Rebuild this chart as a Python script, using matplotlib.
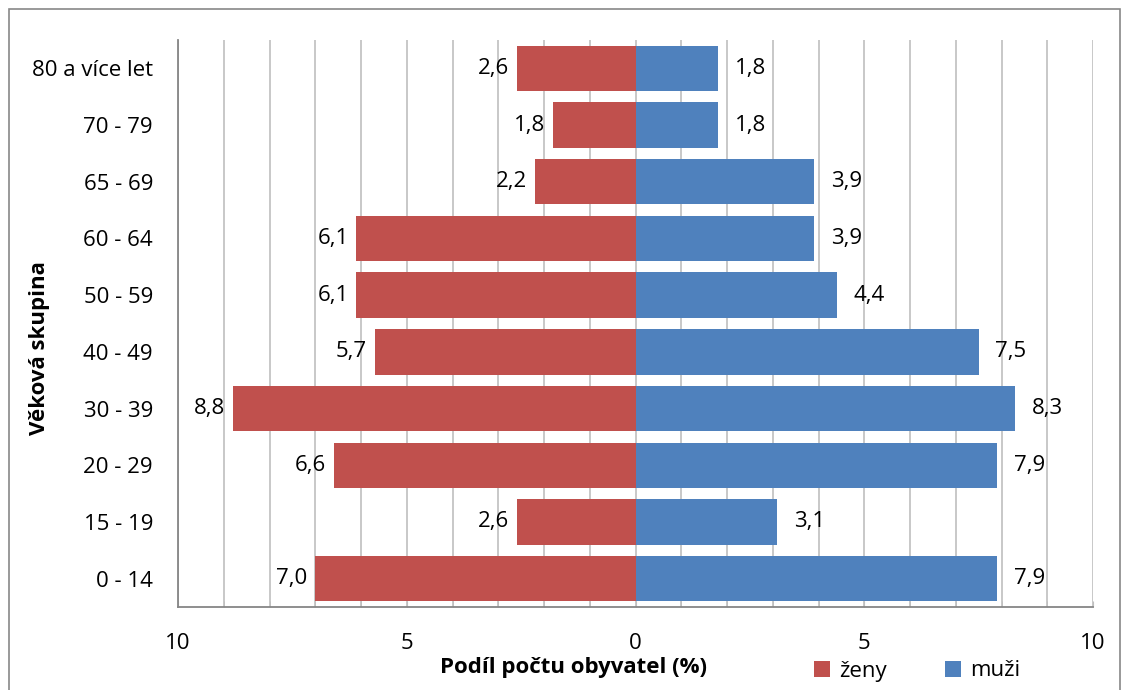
import matplotlib
matplotlib.use("Agg")
import matplotlib.pyplot as plt
from matplotlib.patches import Rectangle
import numpy as np

categories = ["0 - 14", "15 - 19", "20 - 29", "30 - 39", "40 - 49",
              "50 - 59", "60 - 64", "65 - 69", "70 - 79", "80 a více let"]
zeny = [7.0, 2.6, 6.6, 8.8, 5.7, 6.1, 6.1, 2.2, 1.8, 2.6]
muzi = [7.9, 3.1, 7.9, 8.3, 7.5, 4.4, 3.9, 3.9, 1.8, 1.8]
xticks = [-10, -5, 0, 5, 10]
xtick_labels = ["10", "5", "0", "5", "10"]

plt.rcParams['font.family'] = ['Open Sans', 'DejaVu Sans']
FS = 16

fig = plt.figure(figsize=(11.23, 6.9), dpi=100)
ax = fig.add_axes([178/1123, 1-607/690, (1093-178)/1123, (607-40)/690])

y = np.arange(len(categories))
red = "#C0504D"
blue = "#4F81BD"
ax.barh(y, [-v for v in zeny], height=0.8, color=red, zorder=3, label="ženy")
ax.barh(y, muzi, height=0.8, color=blue, zorder=3, label="muži")

def fmt(v):
    return f"{v:.1f}".replace(".", ",")

for yi, v in zip(y, zeny):
    ax.annotate(fmt(v), xy=(-v, yi), xytext=(-5.5, 0), textcoords="offset points",
                ha="right", va="center", fontsize=FS, color="black")
for yi, v in zip(y, muzi):
    ax.annotate(fmt(v), xy=(v, yi), xytext=(12, 0), textcoords="offset points",
                ha="left", va="center", fontsize=FS, color="black")

ax.set_xlim(-10, 10)
ax.set_ylim(-0.5, len(categories) - 0.5)
ax.set_xticks(xticks)
ax.set_xticklabels(xtick_labels, fontsize=FS)
ax.set_xticks(np.arange(-10, 11, 1), minor=True)
ax.tick_params(axis="x", which="both", direction="in", length=4, color="#bfbfbf", pad=19)
ax.set_yticks(y)
ax.set_yticklabels(categories, fontsize=FS)
ax.tick_params(axis="y", length=0, pad=18)

ax.grid(axis="x", which="minor", color="#bfbfbf", linewidth=1.2, zorder=0)
ax.grid(axis="x", which="major", color="#bfbfbf", linewidth=1.2, zorder=0)
for s in ["top", "right"]:
    ax.spines[s].set_visible(False)
for s in ["left", "bottom"]:
    ax.spines[s].set_color("#868686")
    ax.spines[s].set_linewidth(1.3)

fig.text(40/1123, 1-348/690, "Věková skupina", rotation=90, ha="center", va="center",
         fontsize=FS, fontweight="bold")
fig.text(574/1123, 1-668/690, "Podíl počtu obyvatel (%)", ha="center", va="center",
         fontsize=FS, fontweight="bold")

handles, labels = ax.get_legend_handles_labels()
leg = fig.legend(handles, labels, loc="center left", bbox_to_anchor=(814/1123, 1-671/690),
                 ncol=2, frameon=False, fontsize=FS, handlelength=0.7, handleheight=0.7,
                 columnspacing=2.6, handletextpad=0.45, borderpad=0, borderaxespad=0)

fig.patches.append(Rectangle((9/1123, -0.02), (1120-9)/1123, 1.02 - 9/690,
                             transform=fig.transFigure, fill=False,
                             edgecolor="#888888", linewidth=1.2))

fig.savefig("out.png", dpi=100)
